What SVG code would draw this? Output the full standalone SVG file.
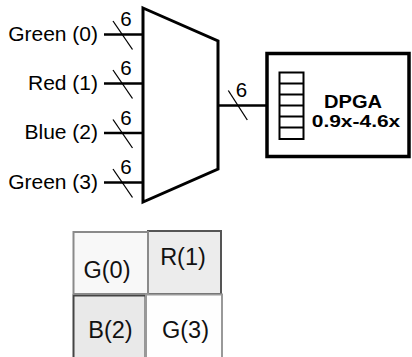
<svg xmlns="http://www.w3.org/2000/svg" width="412" height="357" viewBox="0 0 412 357">
<style>
.lbl{font-family:"Liberation Sans",Arial,sans-serif;font-size:21px;fill:#000}
.w{font-family:"Liberation Sans",Arial,sans-serif;font-size:20.5px;fill:#000;text-anchor:middle}
.bus{stroke:#000;stroke-width:2.5;fill:none}
.sl{stroke:#000;stroke-width:1.3;fill:none}
.cell{font-family:"Liberation Sans",Arial,sans-serif;font-size:23.5px;fill:#111;text-anchor:middle}
</style>
<rect width="412" height="357" fill="#fff"/>
<g id="connectors">
  <line class="bus" x1="104" y1="34.5" x2="143" y2="34.5"/>
  <line class="sl" x1="113" y1="21" x2="132.5" y2="49.5"/>
  <text class="w" x="126" y="26">6</text>
  <line class="bus" x1="104" y1="83.5" x2="143" y2="83.5"/>
  <line class="sl" x1="113" y1="70" x2="132.5" y2="98.5"/>
  <text class="w" x="126" y="75">6</text>
  <line class="bus" x1="104" y1="133" x2="143" y2="133"/>
  <line class="sl" x1="113" y1="119.5" x2="132.5" y2="148"/>
  <text class="w" x="126" y="124.5">6</text>
  <line class="bus" x1="104" y1="182.5" x2="143" y2="182.5"/>
  <line class="sl" x1="113" y1="169" x2="132.5" y2="197.5"/>
  <text class="w" x="126" y="174">6</text>
  <line class="bus" x1="218" y1="105.5" x2="267" y2="105.5"/>
  <line class="sl" x1="228.3" y1="90.5" x2="247.3" y2="120"/>
  <text class="w" x="241.5" y="96.5">6</text>
</g>
<g id="inputs">
  <text class="lbl" x="98" y="40.5" text-anchor="end">Green (0)</text>
  <text class="lbl" x="98" y="89.5" text-anchor="end">Red (1)</text>
  <text class="lbl" x="98" y="139" text-anchor="end">Blue (2)</text>
  <text class="lbl" x="98" y="188.5" text-anchor="end">Green (3)</text>
</g>
<g id="mux">
  <polygon points="143,8 218,41 218,169 143,202" fill="#fff" stroke="#000" stroke-width="3"/>
</g>
<g id="dpga">
  <rect x="267" y="53.5" width="142" height="103" fill="#fff" stroke="#000" stroke-width="3.5"/>
  <rect x="279.5" y="72.5" width="24" height="66.5" fill="#fff" stroke="#000" stroke-width="2"/>
  <path d="M279.5 83.5H303.5M279.5 94.5H303.5M279.5 105.5H303.5M279.5 116.5H303.5M279.5 127.5H303.5" stroke="#000" stroke-width="2"/>
  <text x="353" y="108" font-family="Liberation Sans,Arial,sans-serif" font-weight="bold" font-size="18" text-anchor="middle" textLength="58" lengthAdjust="spacingAndGlyphs">DPGA</text>
  <text x="356" y="127" font-family="Liberation Sans,Arial,sans-serif" font-weight="bold" font-size="16" text-anchor="middle" textLength="88.5" lengthAdjust="spacingAndGlyphs">0.9x-4.6x</text>
</g>
<g id="grid">
  <g id="cell-r1">
    <rect x="148" y="231" width="73" height="63" fill="#ececec" stroke="#555" stroke-width="2"/>
    <text class="cell" x="183" y="264.5">R(1)</text>
  </g>
  <g id="cell-b2">
    <rect x="73.5" y="295.5" width="72" height="70" fill="#e9e9e9" stroke="#444" stroke-width="2"/>
    <text class="cell" x="110.5" y="337.5">B(2)</text>
  </g>
  <g id="cell-g0">
    <rect x="73.5" y="232" width="74.5" height="62" fill="#f8f8f8" stroke="#8a8a8a" stroke-width="2"/>
    <text class="cell" x="107" y="277.5">G(0)</text>
  </g>
  <g id="cell-g3">
    <rect x="146" y="294.5" width="76" height="70" fill="#fefefe" stroke="#999" stroke-width="2"/>
    <text class="cell" x="185.5" y="337.5">G(3)</text>
  </g>
</g>
</svg>
